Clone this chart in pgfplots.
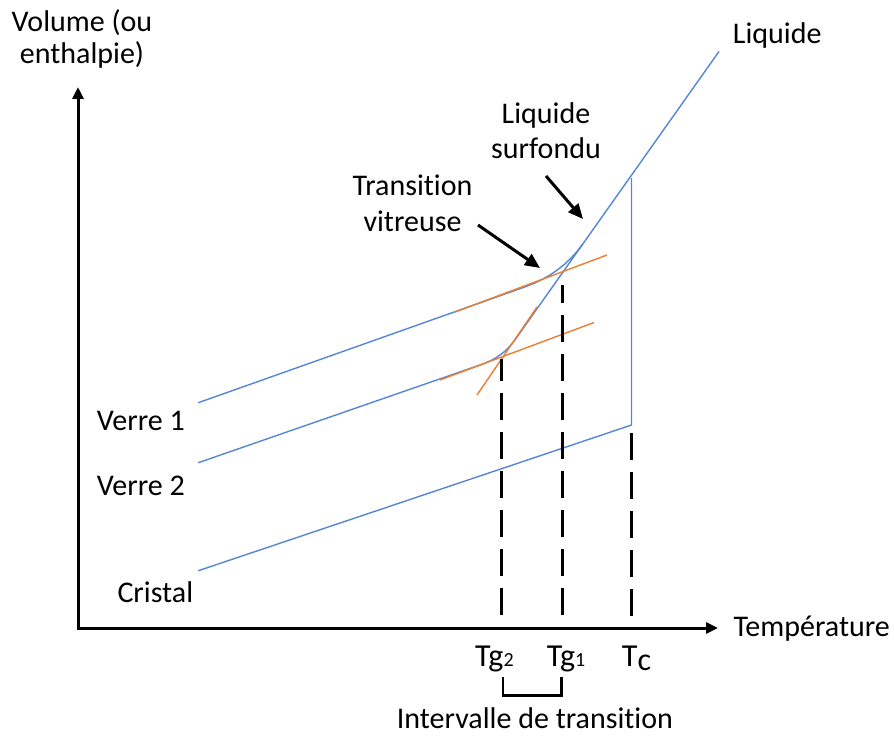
\documentclass[border=0pt]{standalone}
\usepackage{pgfplots}
\pgfplotsset{compat=1.18}
\usepackage{fontspec}
\setmainfont{Carlito}[Ligatures={NoCommon}]
\usetikzlibrary{arrows.meta}
\definecolor{lblue}{HTML}{5586D6}
\definecolor{lorange}{HTML}{ED7D31}
\begin{document}
\fontsize{30bp}{36bp}\selectfont
\begin{tikzpicture}
\begin{axis}[scale only axis, width=894bp, height=736bp,
  xmin=0, xmax=894, ymin=0, ymax=736, y dir=reverse,
  hide axis, clip=false]
% axes
\addplot[black, line width=3bp, line join=miter,
  {Triangle[length=12bp,width=11bp]}-{Triangle[length=12bp,width=11bp]}]
  coordinates {(78,87) (78,628) (718,628)};
% cristal + Tc + liquide
\addplot[lblue, line width=1.4bp] coordinates {(198.3,570.7) (631.5,425) (631.5,178.2)};
\addplot[lblue, line width=1.4bp] coordinates {(719,51.5) (582.8,244) (514.9,340)};
% verre 1
\addplot[lblue, line width=1.4bp] coordinates {(198.3,402.7) (525,286.9) (533.9,283.4) (542.3,279.4) (550.3,274.8) (557.75,269.7) (564.7,264.1) (571.2,257.9) (577.3,251.2) (582.8,244)};
% verre 2
\addplot[lblue, line width=1.4bp] coordinates {(198.3,462.7) (482,364.3) (487.1,362.3) (491.9,360) (496.4,357.5) (500.6,354.6) (504.6,351.4) (508.3,347.9) (511.7,344.1) (514.9,340)};
% tangents
\addplot[lorange, line width=1.4bp] coordinates {(455,312) (607,255)};
\addplot[lorange, line width=1.4bp] coordinates {(440,380) (594,322.5)};
\addplot[lorange, line width=1.4bp] coordinates {(477,395) (537,307)};
% dashed
\addplot[black, line width=3bp, dash pattern=on 27bp off 12bp] coordinates {(501.5,615) (501.5,359)};
\addplot[black, line width=3bp, dash pattern=on 27bp off 12bp] coordinates {(562,615) (562,285)};
\addplot[black, line width=3bp, dash pattern=on 27bp off 12bp] coordinates {(631.5,616) (631.5,432)};
% annotation arrows
\addplot[black, line width=3bp, -{Triangle[length=15bp,width=13bp]}] coordinates {(478,225) (540,268)};
\addplot[black, line width=3bp, -{Triangle[length=15bp,width=13bp]}] coordinates {(546,176) (583,219)};
% bracket
\addplot[black, line width=2.2bp, line join=miter] coordinates {(503,677) (503,695.5) (561.5,695.5) (561.5,677)};
% texts
\node[anchor=base, inner sep=0] at (axis cs:82,31.7) {Volume (ou};
\node[anchor=base, inner sep=0] at (axis cs:82,63.3) {enthalpie)};
\node[anchor=base west, inner sep=0] at (axis cs:732.7,44) {Liquide};
\node[anchor=base, inner sep=0] at (axis cs:546,123.3) {Liquide};
\node[anchor=base, inner sep=0] at (axis cs:546,158.3) {surfondu};
\node[anchor=base, inner sep=0] at (axis cs:412.5,195) {Transition};
\node[anchor=base, inner sep=0] at (axis cs:412.5,231.7) {vitreuse};
\node[anchor=base west, inner sep=0] at (axis cs:96.7,430) {Verre 1};
\node[anchor=base west, inner sep=0] at (axis cs:96.7,495) {Verre 2};
\node[anchor=base west, inner sep=0] at (axis cs:117.3,602.7) {Cristal};
\node[anchor=base west, inner sep=0] at (axis cs:733.3,636.7) {Température};
\node[anchor=base west, inner sep=0] at (axis cs:475,666.7) {\fontsize{32bp}{36bp}\selectfont Tg{\fontsize{20bp}{20bp}\selectfont 2}};
\node[anchor=base west, inner sep=0] at (axis cs:546.7,666.7) {\fontsize{32bp}{36bp}\selectfont Tg{\fontsize{20bp}{20bp}\selectfont 1}};
\node[anchor=base west, inner sep=0] at (axis cs:621.7,666.7) {\fontsize{32bp}{36bp}\selectfont T\raisebox{-4bp}{c}};
\node[anchor=base west, inner sep=0] at (axis cs:396.7,728.5) {\fontsize{30bp}{34bp}\selectfont Intervalle de transition};
\end{axis}
\pgfresetboundingbox
\path (0,0) rectangle (894bp,736bp);
\end{tikzpicture}
\end{document}
